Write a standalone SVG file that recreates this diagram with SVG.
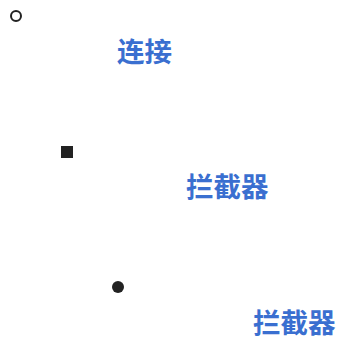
<svg xmlns="http://www.w3.org/2000/svg" width="339" height="342" viewBox="0 0 339 342">
<style>
.lbl{font-family:"Noto Sans CJK SC","Noto Sans",sans-serif;font-size:27.5px;font-weight:bold;fill:#3a6fd0}
.mk{fill:#222}
</style>
<rect width="339" height="342" fill="#fff"/>
<g id="connectors"></g>
<g id="node-start"><circle cx="16" cy="16" r="5" fill="none" stroke="#222" stroke-width="2"/></g>
<g id="node-connect"><text class="lbl" x="117" y="62">连接</text></g>
<g id="node-square"><rect class="mk" x="61" y="146" width="12" height="12"/></g>
<g id="node-interceptor1"><text class="lbl" x="186" y="197">拦截器</text></g>
<g id="node-dot"><circle class="mk" cx="118" cy="287" r="6"/></g>
<g id="node-interceptor2"><text class="lbl" x="253" y="333">拦截器</text></g>
</svg>
